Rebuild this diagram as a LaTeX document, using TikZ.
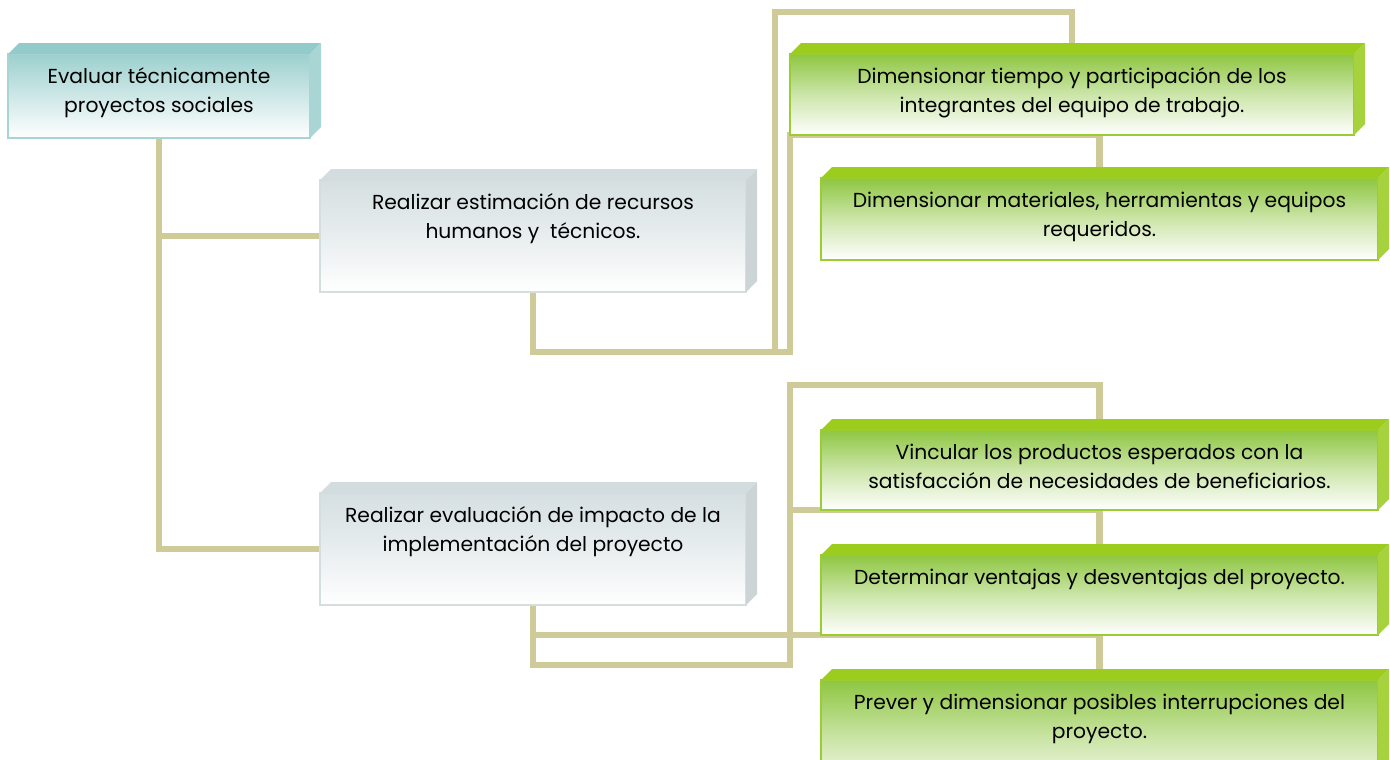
\documentclass[tikz,border=0pt]{standalone}
\usepackage{fontspec}
\setmainfont{Poppins}
\usetikzlibrary{backgrounds,calc}
\definecolor{conncol}{HTML}{CFCB99}
\definecolor{tealtop}{HTML}{9CD0CE}
\definecolor{tealbev}{HTML}{93CBCA}
\definecolor{tealside}{HTML}{A9D6D5}
\definecolor{tealline}{HTML}{A8D4D3}
\definecolor{graytop}{HTML}{D5DFE1}
\definecolor{graybev}{HTML}{D3DCDE}
\definecolor{grayside}{HTML}{CCD4D6}
\definecolor{grayline}{HTML}{D4DEDF}
\definecolor{greentop}{HTML}{8EC641}
\definecolor{greenbev}{HTML}{9CCC1E}
\definecolor{greenside}{HTML}{A6D23E}
\definecolor{greenline}{HTML}{9ACD32}
\tikzset{
  boxbase/.style={rectangle, inner sep=0pt, outer sep=0pt, line width=1.2pt},
  boxteal/.style={boxbase, draw=tealline, top color=tealtop, bottom color=white, middle color=tealtop!50!white},
  boxgray/.style={boxbase, draw=grayline, top color=graytop, bottom color=white, middle color=graytop!55!white},
  boxgreen/.style={boxbase, draw=greenline, top color=greentop, bottom color=white, middle color=greentop!45!white},
  bevteal/.style={fill=tealbev}, sideteal/.style={fill=tealside},
  bevgray/.style={fill=graybev}, sidegray/.style={fill=grayside},
  bevgreen/.style={fill=greenbev}, sidegreen/.style={fill=greenside},
  txt/.style={anchor=north, align=center, inner sep=0pt, font=\fontsize{15.2}{22}\selectfont, text=black},
  conn/.style={draw=conncol, line width=5.2pt}
}
\newcommand\bevelbox[7]{%
  \node[box#6, minimum width={((#4)-(#2))*0.75pt}, minimum height={((#5)-(#3))*0.75pt}]
    (#1) at ({((#2)+(#4))/2},{((#3)+(#5))/2}) {};
  \fill[bev#6] (#1.north west) -- ++(11,-11) -- ([shift={(11,-11)}]#1.north east) -- (#1.north east) -- cycle;
  \fill[side#6] (#1.north east) -- ++(11,-11) -- ([shift={(11,-11)}]#1.south east) -- (#1.south east) -- cycle;
  \node[txt] (#1t) at ([yshift=-10pt]#1.north) {#7};
}
\begin{document}
\begin{tikzpicture}[x=0.75pt,y=-0.75pt]
\useasboundingbox (0,0) rectangle (1390,760);
\clip (0,0) rectangle (1390,760);
\bevelbox{b1}{8}{54}{310}{138}{teal}{Evaluar técnicamente\\proyectos sociales}
\bevelbox{b2}{320}{180}{746}{292}{gray}{Realizar estimación de recursos\\humanos y\ \ técnicos.}
\bevelbox{b3}{320}{493}{746}{605}{gray}{Realizar evaluación de impacto de la\\implementación del proyecto}
\bevelbox{bA}{790}{54}{1354}{135}{green}{Dimensionar tiempo y participación de los\\integrantes del equipo de trabajo.}
\bevelbox{bB}{821}{178}{1378}{260}{green}{Dimensionar materiales, herramientas y equipos\\requeridos.}
\bevelbox{bC}{821}{430}{1378}{510}{green}{Vincular los productos esperados con la\\satisfacción de necesidades de beneficiarios.}
\bevelbox{bD}{821}{555}{1378}{635}{green}{Determinar ventajas y desventajas del proyecto.}
\bevelbox{bE}{821}{680}{1378}{800}{green}{Prever y dimensionar posibles interrupciones del\\proyecto.}
\coordinate (ja) at (775,352);
\coordinate (jb) at (790,352);
\coordinate (jt) at (775,12);
\coordinate (jc) at (790,665);
\coordinate (jd) at (790,385);
\begin{pgfonlayer}{background}
  \draw[conn] (b1.south) |- (b2.west);
  \draw[conn] (b1.south) |- (b3.west);
  \draw[conn] (b2.south) |- (ja) -- (jt) -| (bA.north);
  \draw[conn] (b2.south) |- (jb) -- (jb |- bA.south) -| (bB.north);
  \draw[conn] (b3.south) |- (jc) -- (jd) -| (bC.north);
  \draw[conn] (jc) -- (jc |- bC.south) -| (bD.north);
  \draw[conn] (b3.south) |- (bD.south) -- (bE.north);
\end{pgfonlayer}
\end{tikzpicture}
\end{document}
